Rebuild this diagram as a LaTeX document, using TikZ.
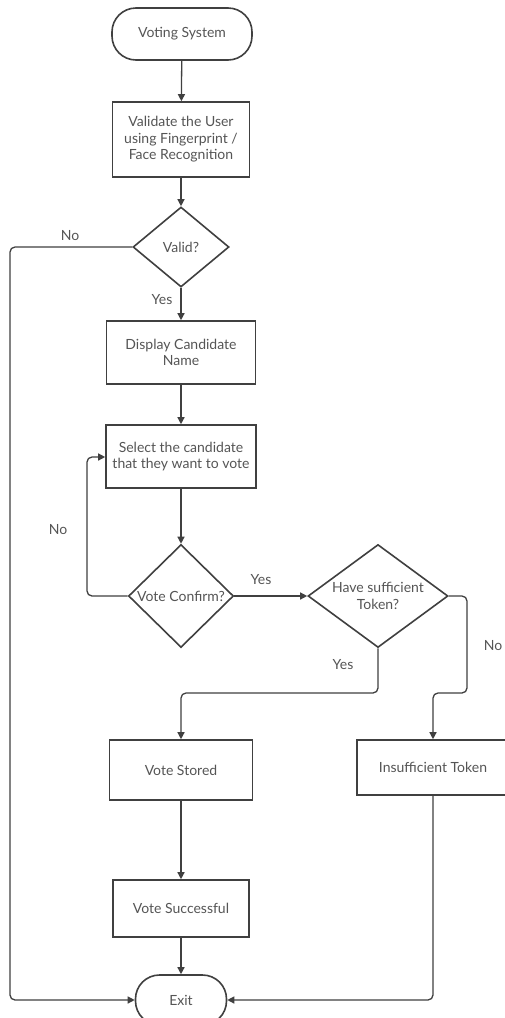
\documentclass[tikz,border=0pt]{standalone}
\usepackage{fontspec}
\setmainfont{Lato}
\usetikzlibrary{shapes.geometric,arrows.meta,calc}
\definecolor{ln}{HTML}{404040}
\definecolor{tx}{HTML}{555555}
\tikzset{
  every node/.style={font=\fontsize{14}{16.5}\selectfont, text=tx},
  proc/.style={draw=ln, line width=1.6pt, fill=white, align=center, inner sep=0pt},
  term/.style={draw=ln, line width=1.6pt, fill=white, rounded corners=24pt, inner sep=0pt},
  dec/.style={draw=ln, line width=1.6pt, fill=white, diamond, inner sep=0pt, align=center},
  conn/.style={draw=ln, line width=1.3pt, -{Triangle[length=7pt,width=7pt]}, rounded corners=5pt},
  lbl/.style={text=tx}
}
\begin{document}
\begin{tikzpicture}[x=1pt,y=-1pt]
\useasboundingbox[fill=white] (0,0) rectangle (505,1018);
\clip (0,0) rectangle (505,1018);
\node[term, minimum width=140pt, minimum height=52pt] (start) at (182,34) {Voting System};
\node[proc, minimum width=137pt, minimum height=75pt] (validate) at (181,139.5) {Validate the User\\using Fingerprint /\\Face Recognition};
\node[dec, minimum width=96pt, minimum height=80pt] (valid) at (181,247) {Valid?};
\node[proc, minimum width=149pt, minimum height=63pt] (display) at (181,352.5) {Display Candidate\\Name};
\node[proc, minimum width=150pt, minimum height=63pt] (select) at (181,456.5) {Select the candidate\\that they want to vote};
\node[dec, minimum width=105pt, minimum height=103pt, label={center:Vote Confirm?}] (confirm) at (181,596) {};
\node[dec, minimum width=140pt, minimum height=103pt, label={[align=center]center:Have sufficient\\Token?}] (token) at (378,596) {};
\node[proc, minimum width=143pt, minimum height=60pt] (stored) at (181,770) {Vote Stored};
\node[proc, minimum width=152pt, minimum height=55pt] (insuff) at (433,767.5) {Insufficient Token};
\node[proc, minimum width=136pt, minimum height=57pt] (success) at (181,908.5) {Vote Successful};
\node[term, minimum width=91pt, minimum height=50pt] (exit) at (181,1000) {Exit};

\coordinate (nl) at (10,247);
\coordinate (nlb) at (10,1000);
\coordinate (cl) at (87,596);
\coordinate (clt) at (87,457);
\coordinate (tr) at (467,596);
\coordinate (trb) at (467,693);
\coordinate (ti) at (433,693);
\coordinate (tb) at (378,693);
\coordinate (ts) at (181,693);
\coordinate (ib) at (433,1000);

\draw[conn] (start) -- (validate);
\draw[conn] (validate) -- (valid);
\draw[conn] (valid.south) -- (display);
\draw[conn] (valid.west) -- (nl) -- (nlb) -- (exit.west);
\draw[conn] (display) -- (select);
\draw[conn] (select) -- (confirm);
\draw[conn] (confirm.west) -- (cl) -- (clt) -- (select.west |- clt);
\draw[conn] (confirm.east) -- (token.west);
\draw[conn] (token.east) -- (tr) -- (trb) -- (ti) -- (insuff.north);
\draw[conn] (token.south) -- (tb) -- (ts) -- (stored.north);
\draw[conn] (stored) -- (success);
\draw[conn] (success) -- (exit);
\draw[conn] (insuff.south) -- (ib) -- (exit.east);

\node[lbl] (l1) at (70,236) {No};
\node[lbl] (l2) at (162,300) {Yes};
\node[lbl] (l3) at (58,530) {No};
\node[lbl] (l4) at (261,580) {Yes};
\node[lbl] (l5) at (493,646) {No};
\node[lbl] (l6) at (343,665) {Yes};
\end{tikzpicture}
\end{document}
